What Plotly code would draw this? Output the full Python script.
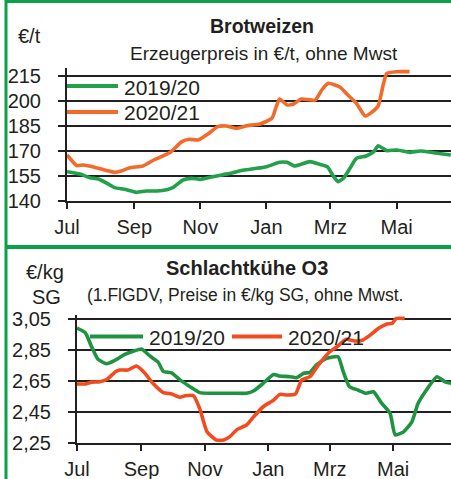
import plotly.graph_objects as go

W, H = 451, 479

# ---- Data: days since 1 July ----
# Brotweizen (EUR/t)
wheat_1920_day = [0, 12, 21, 29, 37, 44, 53, 64, 73, 83, 92, 98, 107, 115, 123, 132, 144, 153, 163, 175, 184,
                  196, 203, 210, 224, 233, 240, 246, 250, 255, 261, 267, 276, 283, 287, 295, 304, 316, 326, 338, 354]
wheat_1920_val = [157.6, 156.2, 154.0, 153.2, 150.6, 148.0, 147.0, 145.2, 146.0, 146.0, 146.8, 148.2, 152.6, 153.6,
                  153.0, 154.2, 155.8, 157.0, 158.6, 159.6, 160.6, 163.2, 163.2, 161.0, 163.6, 162.0, 160.6, 154.6,
                  151.6, 153.6, 159.6, 165.6, 167.0, 169.6, 173.2, 170.2, 170.6, 169.2, 170.0, 169.0, 167.6]
wheat_2021_day = [0, 9, 15, 27, 37, 44, 50, 58, 70, 80, 89, 96, 106, 113, 121, 130, 139, 147, 156, 166, 178,
                  189, 193, 196, 203, 209, 216, 229, 235, 241, 252, 259, 267, 275, 281, 287, 292, 295, 304, 316]
wheat_2021_val = [167.6, 161.2, 161.6, 160.0, 158.2, 157.2, 158.0, 160.0, 161.0, 164.6, 167.2, 169.6, 175.6, 177.0,
                  176.6, 180.2, 184.6, 185.0, 183.6, 185.2, 186.2, 189.6, 196.6, 201.2, 197.6, 198.2, 201.2, 200.6,
                  206.6, 210.6, 208.2, 203.6, 198.6, 191.0, 193.2, 197.0, 210.6, 216.6, 217.6, 217.6]

# Schlachtkuehe O3 (EUR/kg SG)
cow_1920_day = [0, 8, 14, 20, 28, 36, 46, 54, 62, 70, 78, 83, 91, 99, 109, 118, 128, 150, 163, 170, 179, 189,
                195, 205, 211, 218, 224, 230, 240, 251, 256, 262, 270, 278, 285, 293, 301, 306, 314, 322, 328,
                336, 346, 354, 360]
cow_1920_val = [2.99, 2.96, 2.87, 2.79, 2.76, 2.78, 2.82, 2.84, 2.855, 2.81, 2.77, 2.71, 2.70, 2.655, 2.61, 2.573,
                2.569, 2.569, 2.569, 2.585, 2.633, 2.69, 2.68, 2.676, 2.669, 2.698, 2.704, 2.751, 2.794, 2.805,
                2.708, 2.611, 2.59, 2.569, 2.579, 2.504, 2.44, 2.30, 2.32, 2.385, 2.504, 2.59, 2.676, 2.643, 2.633]
cow_2021_day = [0, 8, 14, 22, 29, 37, 41, 49, 57, 64, 73, 83, 91, 99, 104, 112, 118, 125, 134, 141, 147, 154,
                163, 170, 179, 189, 195, 202, 210, 216, 224, 232, 243, 250, 259, 267, 275, 282, 290, 298, 303,
                307, 315]
cow_2021_val = [2.629, 2.629, 2.641, 2.643, 2.659, 2.708, 2.719, 2.719, 2.745, 2.708, 2.633, 2.573, 2.564, 2.543,
                2.553, 2.553, 2.47, 2.321, 2.267, 2.267, 2.289, 2.336, 2.364, 2.418, 2.482, 2.525, 2.562, 2.558,
                2.564, 2.654, 2.676, 2.751, 2.837, 2.869, 2.917, 2.906, 2.913, 2.945, 2.988, 3.016, 3.02, 3.052,
                3.052]

month_days = [0, 62, 123, 184, 243, 304]
month_labels = ["Jul", "Sep", "Nov", "Jan", "Mrz", "Mai"]

wheat_ticks = [140, 155, 170, 185, 200, 215]
wheat_ticktext = ["140", "155", "170", "185", "200", "215"]
cow_ticks = [2.25, 2.45, 2.65, 2.85, 3.05]
cow_ticktext = ["2,25", "2,45", "2,65", "2,85", "3,05"]

series_names = ["2019/20", "2020/21"]

# ---- Styling ----
FONT = "Liberation Sans"
INK = "#231f20"
FRAME = "#0ba14b"
GREEN_TOP = "#23a04a"
ORANGE_TOP = "#f26b2b"
GREEN_BOT = "#1f9440"
ORANGE_BOT = "#f24b1f"


def px(x):
    return x / W


def py(y):
    return 1 - y / H


fig = go.Figure()
line_kw = dict(shape="spline", smoothing=0.5, width=3.6)
fig.add_trace(go.Scatter(x=wheat_1920_day, y=wheat_1920_val, mode="lines", line=dict(color=GREEN_TOP, **line_kw),
                         xaxis="x", yaxis="y", showlegend=False))
fig.add_trace(go.Scatter(x=wheat_2021_day, y=wheat_2021_val, mode="lines", line=dict(color=ORANGE_TOP, **line_kw),
                         xaxis="x", yaxis="y", showlegend=False))
fig.add_trace(go.Scatter(x=cow_1920_day, y=cow_1920_val, mode="lines", line=dict(color=GREEN_BOT, **line_kw),
                         xaxis="x2", yaxis="y2", showlegend=False))
fig.add_trace(go.Scatter(x=cow_2021_day, y=cow_2021_val, mode="lines", line=dict(color=ORANGE_BOT, **line_kw),
                         xaxis="x2", yaxis="y2", showlegend=False))

tickfont = dict(family=FONT, size=20, color=INK)
common_x = dict(tickmode="array", tickvals=month_days, ticktext=month_labels, ticks="outside", ticklen=6,
                tickwidth=2, tickcolor=INK, showline=True, linecolor=INK, linewidth=2, showgrid=False,
                zeroline=False, tickfont=tickfont, ticklabelstandoff=1, automargin=False)
common_y = dict(tickmode="array", ticks="outside", ticklen=7, tickwidth=2, tickcolor=INK, showline=True,
                linecolor=INK, linewidth=2, showgrid=True, gridcolor=INK, gridwidth=2, zeroline=False,
                tickfont=tickfont, ticklabelstandoff=13, automargin=False)

fig.update_layout(
    width=W, height=H, margin=dict(l=0, r=0, t=0, b=0, pad=0),
    paper_bgcolor="white", plot_bgcolor="white",
    xaxis=dict(domain=[px(67), 1], range=[0, 354.2], anchor="y", **common_x),
    yaxis=dict(domain=[py(201), py(68)], range=[140, 219.8], anchor="x", tickvals=wheat_ticks,
               ticktext=wheat_ticktext, **common_y),
    xaxis2=dict(domain=[px(77), 1], range=[0, 359.6], anchor="y2", **common_x),
    yaxis2=dict(domain=[py(442.7), py(315)], range=[2.25, 3.074], anchor="x2", tickvals=cow_ticks,
                ticktext=cow_ticktext, **common_y),
)

shapes = [
    # green frame
    dict(type="line", xref="paper", yref="paper", x0=px(6), x1=px(6), y0=0, y1=1, line=dict(color=FRAME, width=3)),
    dict(type="line", xref="paper", yref="paper", x0=px(5), x1=1, y0=py(1.5), y1=py(1.5), line=dict(color=FRAME, width=3)),
    dict(type="line", xref="paper", yref="paper", x0=px(5), x1=1, y0=py(247), y1=py(247), line=dict(color=FRAME, width=4)),
    # legend lines top
    dict(type="line", xref="paper", yref="paper", x0=px(67), x1=px(118), y0=py(86), y1=py(86),
         line=dict(color=GREEN_TOP, width=4)),
    dict(type="line", xref="paper", yref="paper", x0=px(67), x1=px(118), y0=py(112), y1=py(112),
         line=dict(color=ORANGE_TOP, width=4)),
    # legend lines bottom
    dict(type="line", xref="paper", yref="paper", x0=px(90), x1=px(143), y0=py(336.5), y1=py(336.5),
         line=dict(color=GREEN_BOT, width=4)),
    dict(type="line", xref="paper", yref="paper", x0=px(232), x1=px(282), y0=py(336.5), y1=py(336.5),
         line=dict(color=ORANGE_BOT, width=4)),
]
fig.update_layout(shapes=shapes)


def ann(text, x, y, size, xanchor="center", bold=False):
    t = f"<b>{text}</b>" if bold else text
    return dict(text=t, x=px(x), y=py(y), xref="paper", yref="paper", xanchor=xanchor, yanchor="middle",
                showarrow=False, font=dict(family=FONT, size=size, color=INK))


annotations = [
    ann("Brotweizen", 262, 26, 19.5, bold=True),
    ann("Erzeugerpreis in €/t, ohne Mwst", 264, 54, 19),
    ann("€/t", 16, 36, 20, xanchor="left"),
    ann(series_names[0], 122, 87, 21, xanchor="left"),
    ann(series_names[1], 122, 112, 21, xanchor="left"),
    ann("Schlachtkühe O3", 247, 268, 20, bold=True),
    ann("(1.FlGDV, Preise in €/kg SG, ohne Mwst.", 245, 295, 17.5),
    ann("€/kg", 66, 272, 20, xanchor="right"),
    ann("SG", 63, 297, 20, xanchor="right"),
    ann(series_names[0], 147, 337, 21, xanchor="left"),
    ann(series_names[1], 286, 337, 21, xanchor="left"),
]
fig.update_layout(annotations=annotations)

# the page's default 8px body margin would shift the figure; remove it
fig.write_html("out.html", config={"displayModeBar": False},
               post_script="document.body.style.margin='0';document.body.style.overflow='hidden';")
